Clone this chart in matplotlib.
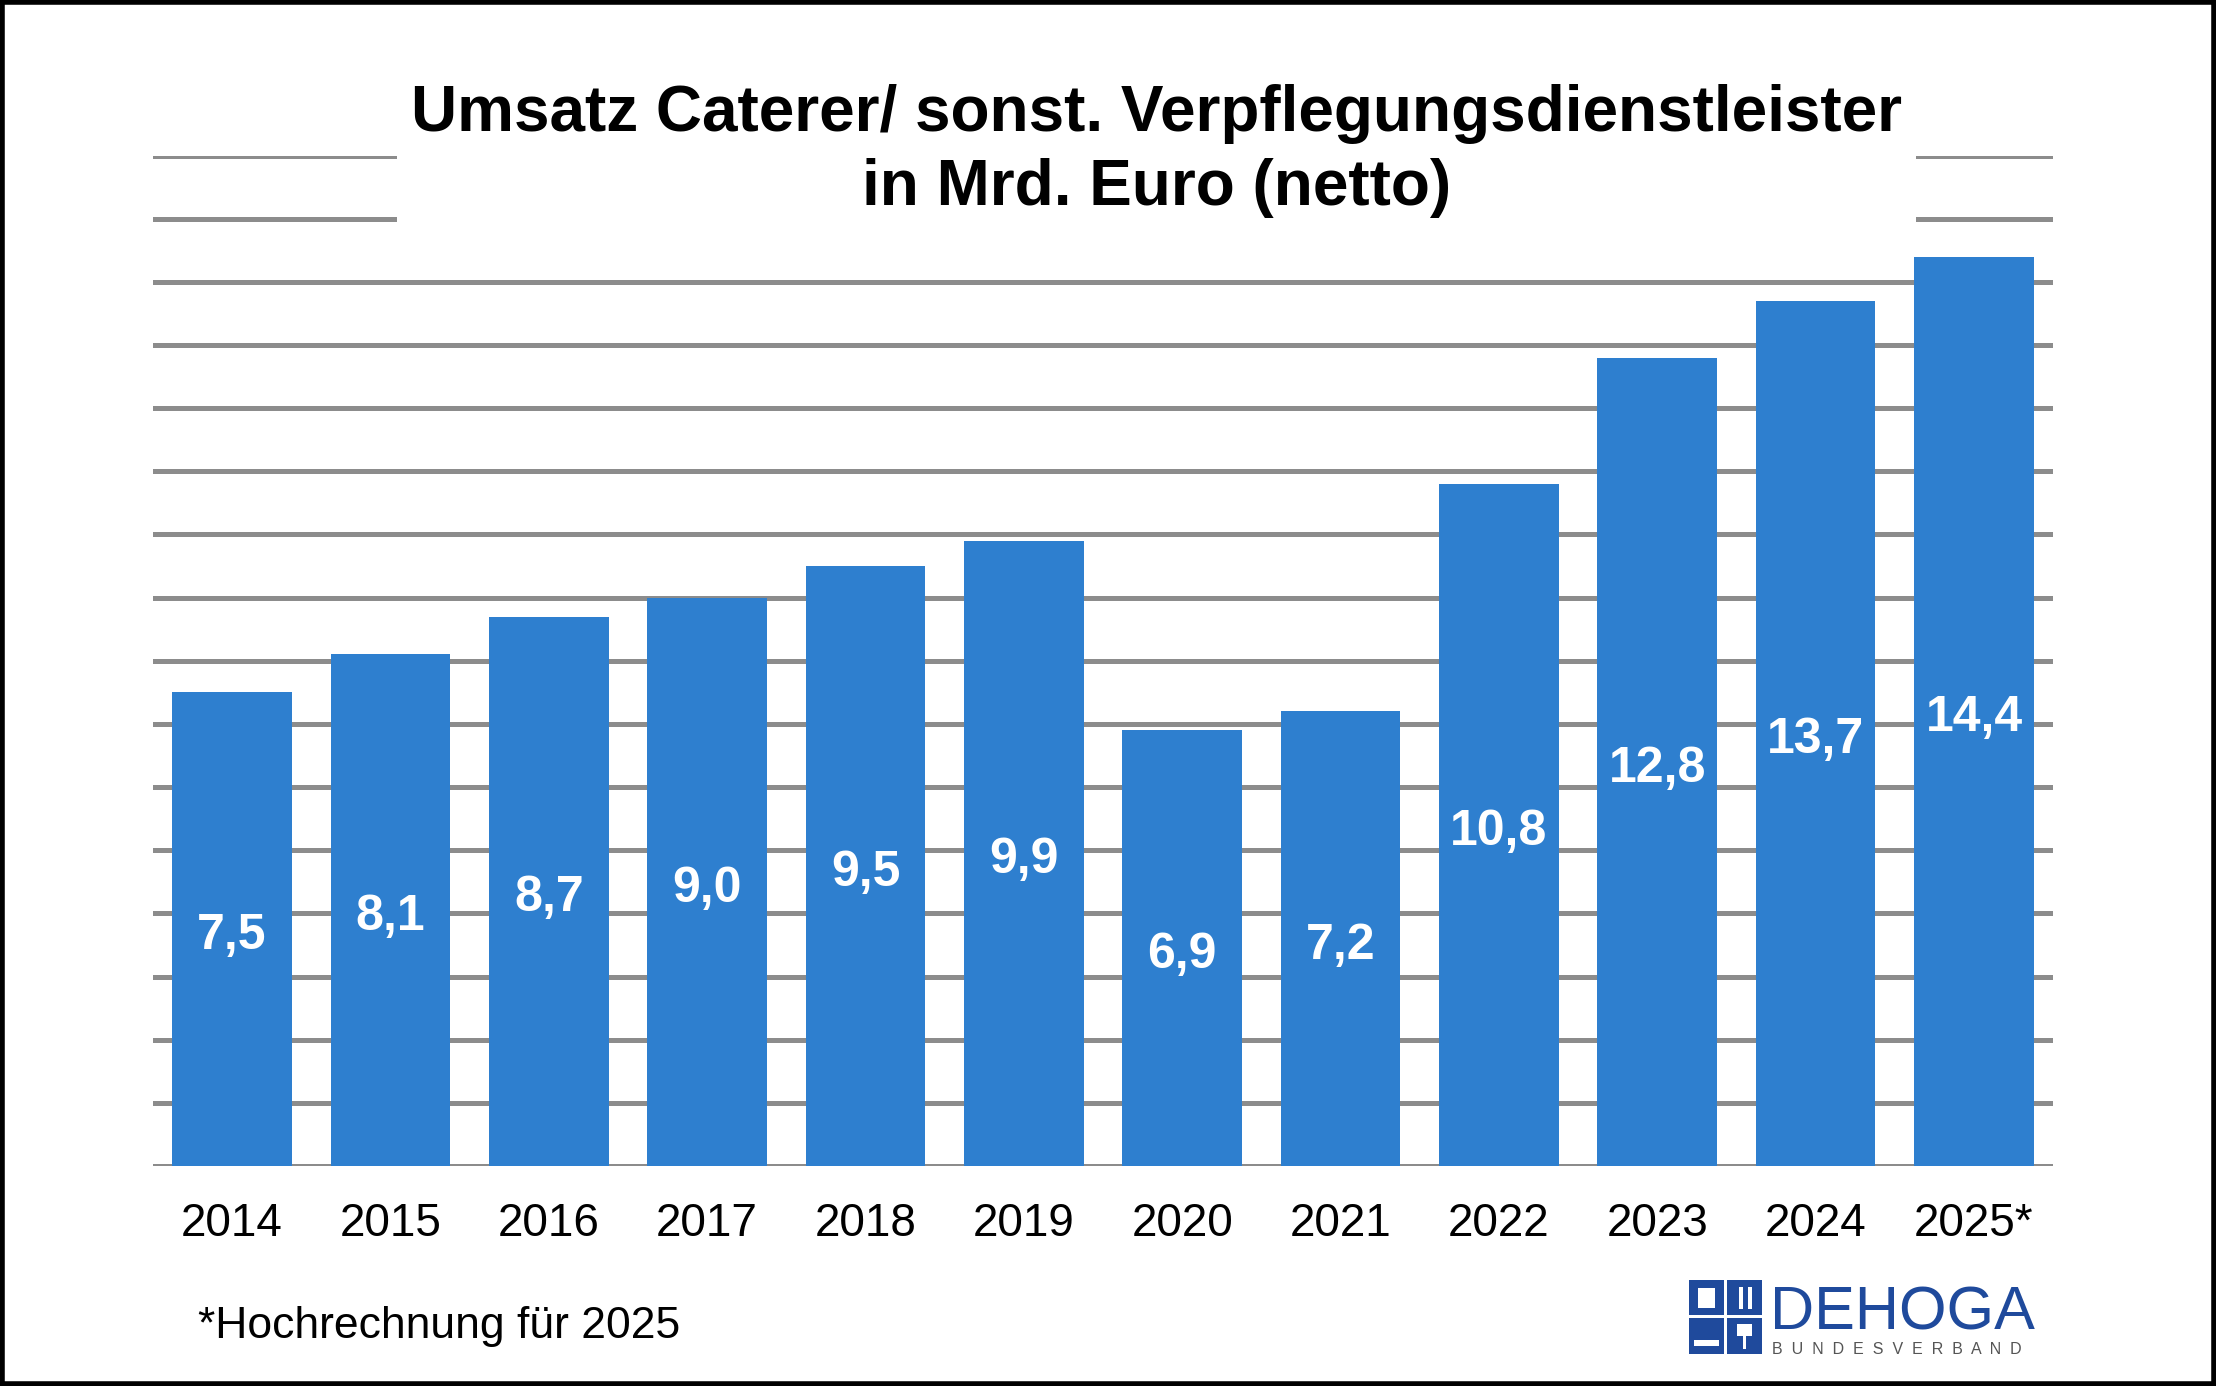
import matplotlib.pyplot as plt
from matplotlib.patches import Rectangle
from matplotlib import transforms
import numpy as np

jahre = ["2014", "2015", "2016", "2017", "2018", "2019", "2020", "2021",
         "2022", "2023", "2024", "2025*"]
umsatz = [7.5, 8.1, 8.7, 9.0, 9.5, 9.9, 6.9, 7.2, 10.8, 12.8, 13.7, 14.4]
beschriftung = ["7,5", "8,1", "8,7", "9,0", "9,5", "9,9", "6,9", "7,2",
                "10,8", "12,8", "13,7", "14,4"]
titel = "Umsatz Caterer/ sonst. Verpflegungsdienstleister\nin Mrd. Euro (netto)"
fussnote = "*Hochrechnung für 2025"

plt.rcParams["font.family"] = ["Liberation Sans", "DejaVu Sans"]

blau = "#2e7fcf"
grau = "#8c8c8c"
dunkelblau = "#1f4a9c"

fig = plt.figure(figsize=(22.16, 13.86), dpi=100)
ax = fig.add_axes([0.069, 0.1587, 0.8575, 0.7291])

x = np.arange(len(jahre))
ax.bar(x, umsatz, width=0.756, color=blau, zorder=3)
# Werte etwas unter die Mitte schieben
versatz = transforms.offset_copy(ax.transData, fig=fig, x=0, y=-5, units="points")
for xi, v, t in zip(x, umsatz, beschriftung):
    ax.text(xi, v / 2, t, ha="center", va="center", color="white",
            fontsize=36, fontweight="bold", zorder=4, transform=versatz)

ax.set_xlim(-0.5, len(jahre) - 0.5)
ax.set_ylim(0, 16)
ax.set_yticks(np.arange(0, 17, 1))
ax.yaxis.grid(True, color=grau, linewidth=3.6, zorder=0)
ax.set_axisbelow(True)
ax.set_yticklabels([])
ax.set_xticks(x)
ax.set_xticklabels(jahre, fontsize=33)
ax.tick_params(axis="both", length=0)
ax.tick_params(axis="x", pad=26)
for s in ax.spines.values():
    s.set_visible(False)

# Titel mit weissem Hintergrund (verdeckt Gitterlinien)
fig.text(0.5217, 0.891, titel, ha="center", va="center", fontsize=46,
         fontweight="bold", linespacing=1.3, zorder=10,
         bbox=dict(facecolor="white", edgecolor="none", pad=10))

fig.text(0.0893, 0.043, fussnote, ha="left", va="center", fontsize=32)

# Logo (vereinfacht)
logo = fig.add_axes([0, 0, 1, 1], facecolor="none")
logo.set_xlim(0, 2216)
logo.set_ylim(0, 1386)
logo.axis("off")
lx = 1195 * 1.413
ly = 1386 - 958 * 1.413
qs = 25 * 1.413
for i in range(2):
    for j in range(2):
        logo.add_patch(Rectangle((lx + i * (qs + 3), ly + j * (qs + 3)), qs, qs,
                                 facecolor=dunkelblau, edgecolor="none"))
# kleine weisse Symbole
logo.add_patch(Rectangle((lx + 9, ly + qs + 10), 17, 20, facecolor="white"))
logo.add_patch(Rectangle((lx + qs + 3 + 12, ly + qs + 9), 4, 22, facecolor="white"))
logo.add_patch(Rectangle((lx + qs + 3 + 21, ly + qs + 9), 4, 22, facecolor="white"))
logo.add_patch(Rectangle((lx + 5, ly + 8), qs - 10, 6, facecolor="white"))
logo.add_patch(Rectangle((lx + qs + 3 + 10, ly + 18), 15, 12, facecolor="white"))
logo.add_patch(Rectangle((lx + qs + 3 + 16, ly + 5), 3, 14, facecolor="white"))
logo.text(1253 * 1.413, 1386 - 941 * 1.413, "DEHOGA", ha="left", va="baseline",
          fontsize=44, color=dunkelblau)
logo.text(1254 * 1.413, 1386 - 958 * 1.413, "B  U  N  D  E  S  V  E  R  B  A  N  D",
          ha="left", va="baseline", fontsize=11.5, color="#555555")

# Rahmen
fig.patches.append(Rectangle((0.001, 0.0015), 0.998, 0.997, transform=fig.transFigure,
                             fill=False, edgecolor="black", linewidth=4))

fig.savefig("out.png", dpi=100)
